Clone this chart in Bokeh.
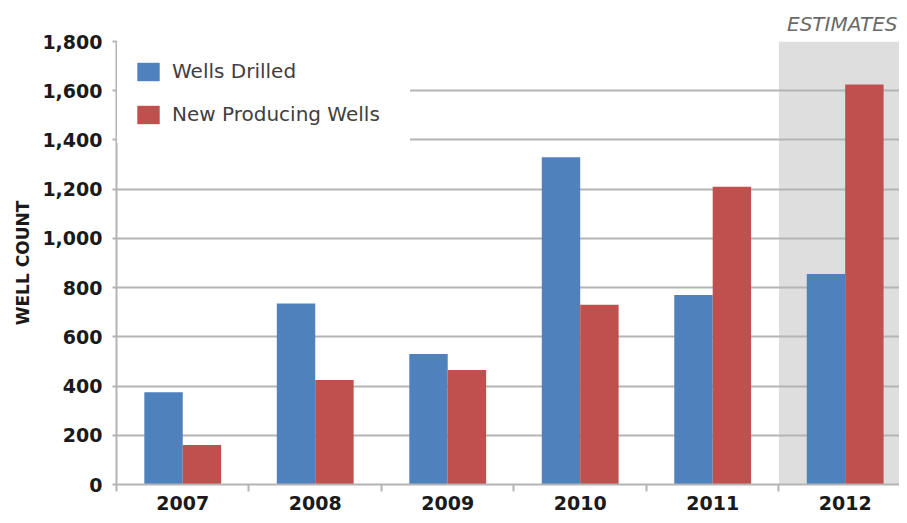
from bokeh.plotting import figure
from bokeh.models import (Range1d, FixedTicker, NumeralTickFormatter, BoxAnnotation,
                          Legend, LegendItem, ColumnDataSource)
from bokeh.embed import file_html
from bokeh.resources import INLINE

years = ["2007", "2008", "2009", "2010", "2011", "2012"]
wells_drilled = [375, 735, 530, 1330, 770, 855]
new_producing = [160, 425, 465, 730, 1210, 1625]
y_ticks = [0, 200, 400, 600, 800, 1000, 1200, 1400, 1600, 1800]
estimate_years = ["2012"]

FONT = "DejaVu Sans"
BLUE = "#4f81bd"
RED = "#c0504d"
GRID = "#b4b4b4"

n = len(years)
idx = list(range(n))
bar_w = 0.29
src = ColumnDataSource(dict(
    xb=[i + 0.5 - bar_w / 2 for i in idx],
    xr=[i + 0.5 + bar_w / 2 for i in idx],
    wd=wells_drilled,
    npw=new_producing,
))

p = figure(width=899, height=515, output_backend="svg", toolbar_location=None,
           x_range=Range1d(0, 5.91), y_range=Range1d(0, 1800),
           min_border_left=116, min_border_right=0, min_border_top=41,
           min_border_bottom=31)
p.outline_line_color = None
p.background_fill_color = "white"

# Estimates shading
est_start = years.index(estimate_years[0])
p.add_layout(BoxAnnotation(left=est_start, fill_color="#dedede", fill_alpha=1.0,
                           line_color=None, level="image"))

rb = p.vbar(x="xb", top="wd", width=bar_w, source=src, fill_color=BLUE, line_color=None)
rr = p.vbar(x="xr", top="npw", width=bar_w, source=src, fill_color=RED, line_color=None)

# "ESTIMATES" label as the title
p.title.text = "ESTIMATES"
p.title.align = "right"
p.title.text_font = FONT
p.title.text_font_style = "italic"
p.title.text_font_size = "20px"
p.title.text_color = "#6a6a6a"
p.title.offset = 2
p.title.standoff = 12

# Grid
p.xgrid.grid_line_color = None
p.ygrid.ticker = FixedTicker(ticks=y_ticks)
p.ygrid.grid_line_color = GRID
p.ygrid.grid_line_width = 2

# Y axis
p.yaxis.ticker = FixedTicker(ticks=y_ticks)
p.yaxis.formatter = NumeralTickFormatter(format="0,0")
p.yaxis.axis_label = "WELL COUNT"
p.yaxis.axis_label_text_font = FONT
p.yaxis.axis_label_text_font_style = "bold"
p.yaxis.axis_label_text_font_size = "17px"
p.yaxis.axis_label_text_color = "#1a1a1a"
p.yaxis.axis_label_standoff = 6
p.yaxis.major_label_text_font = FONT
p.yaxis.major_label_text_font_style = "bold"
p.yaxis.major_label_text_font_size = "19px"
p.yaxis.major_label_text_color = "#1a1a1a"
p.yaxis.major_label_standoff = 10
p.yaxis.major_tick_line_color = GRID
p.yaxis.major_tick_line_width = 2
p.yaxis.major_tick_out = 4
p.yaxis.major_tick_in = 0
p.yaxis.minor_tick_line_color = None
p.yaxis.axis_line_color = GRID
p.yaxis.axis_line_width = 2

# X axis
p.xaxis.ticker = FixedTicker(ticks=[i + 0.5 for i in idx], minor_ticks=idx)
p.xaxis.major_label_overrides = {i + 0.5: y for i, y in zip(idx, years)}
p.xaxis.major_label_text_font = FONT
p.xaxis.major_label_text_font_style = "bold"
p.xaxis.major_label_text_font_size = "19px"
p.xaxis.major_label_text_color = "#1a1a1a"
p.xaxis.major_label_standoff = 4
p.xaxis.major_tick_line_color = None
p.xaxis.major_tick_out = 0
p.xaxis.minor_tick_line_color = GRID
p.xaxis.minor_tick_line_width = 2
p.xaxis.minor_tick_out = 7
p.xaxis.minor_tick_in = 0
p.xaxis.axis_line_color = GRID
p.xaxis.axis_line_width = 2

legend = Legend(items=[LegendItem(label="Wells Drilled", renderers=[rb]),
                       LegendItem(label="New Producing Wells", renderers=[rr])],
                location="top_left")
legend.border_line_color = "white"
legend.border_line_width = 1
legend.background_fill_color = "white"
legend.background_fill_alpha = 1.0
legend.label_text_font = FONT
legend.label_text_font_size = "20px"
legend.label_text_color = "#404040"
legend.glyph_width = 28
legend.glyph_height = 23
legend.label_height = 23
legend.label_width = 221
legend.label_standoff = 10
legend.spacing = 19
legend.padding = 16
legend.margin = 1
p.add_layout(legend, "center")

open("out.html", "w").write(file_html(p, INLINE))
